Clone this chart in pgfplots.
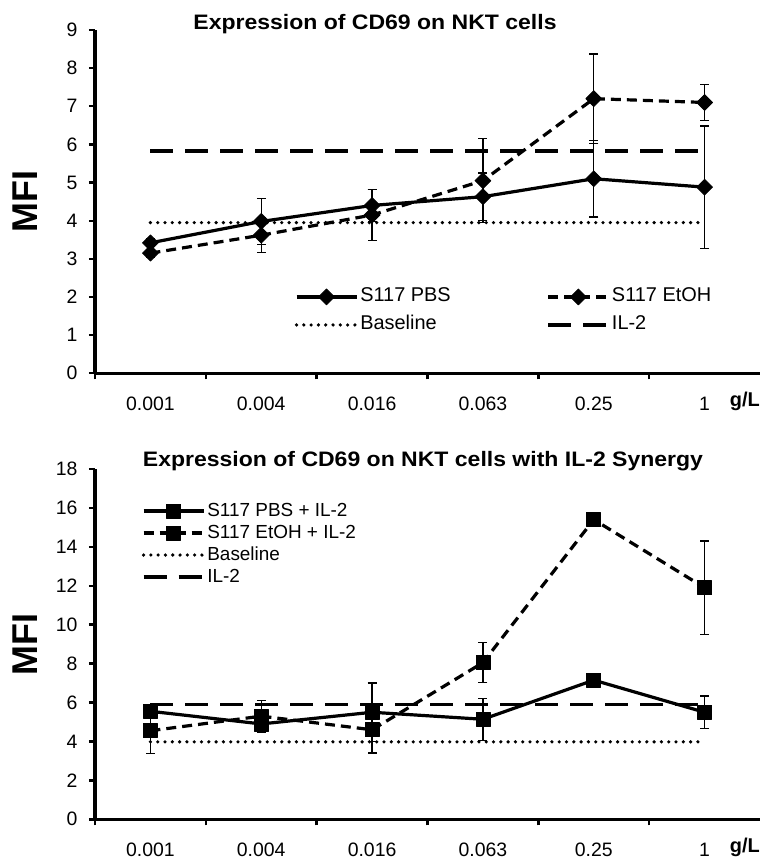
\documentclass[border=0pt]{standalone}
\usepackage{pgfplots}
\usepackage{pgfplotstable}
\pgfplotsset{compat=1.18}
\usepackage{fontspec}
\setmainfont{Liberation Sans}

\pgfplotstableread{
x y e
0 3.42 0.10
1 3.98 0.60
2 4.40 0.42
3 4.63 0.62
4 5.10 1.00
5 4.88 1.60
}\topPBS
\pgfplotstableread{
x y e
0 3.15 0.10
1 3.62 0.45
2 4.15 0.66
3 5.05 1.10
4 7.20 1.17
5 7.10 0.47
}\topEtOH
\pgfplotstableread{
x y e
0 5.55 0.20
1 4.90 0.45
2 5.50 1.50
3 5.14 1.08
4 7.15 0.35
5 5.50 0.83
}\botPBS
\pgfplotstableread{
x y e
0 4.55 1.16
1 5.30 0.80
2 4.60 1.20
3 8.05 1.03
4 15.40 0.20
5 11.90 2.40
}\botEtOH

\pgfplotsset{
  base/.style={
    scale only axis, width=665bp,
    xmin=-0.5, xmax=5.5,
    axis x line*=bottom, axis y line*=left,
    axis line style={line width=3bp, black},
    xtick={-0.5,0.5,1.5,2.5,3.5,4.5}, xticklabels={},
    extra x ticks={0,1,2,3,4,5},
    extra x tick labels={0.001,0.004,0.016,0.063,0.25,1},
    extra x tick style={major tick length=0pt},
    tick align=outside, major tick length=6bp,
    tick style={line width=2.4bp, black},
    tick label style={font=\fontsize{19.5}{19.5}\selectfont},
    /pgf/number format/assume math mode=true,
    xticklabel style={anchor=center, yshift=-31bp},
    yticklabel style={anchor=east, xshift=-8bp},
    ylabel={MFI},
    ylabel style={at={(axis description cs:-0.105,0.5)}, anchor=center, font=\bfseries\fontsize{36}{36}\selectfont},
    xlabel={g/L},
    xlabel style={at={(axis description cs:1,0)}, anchor=east, yshift=-28bp, inner sep=0pt, font=\bfseries\fontsize{20}{20}\selectfont},
    legend style={draw=none, fill=none, inner sep=0pt, nodes={text height=14bp, text depth=4bp, inner sep=2bp}},
    legend cell align=left,
    legend image code/.code={\draw[mark repeat=2,mark phase=2,##1] plot coordinates {(0bp,0bp) (30bp,0bp) (60bp,0bp)};},
  },
  ser/.style={black, line width=3.2bp, line join=round},
  eb/.style={error bars/.cd, y dir=both, y explicit,
    error bar style={line width=1.3bp, solid},
    error mark options={rotate=90, mark size=4.5bp, line width=1.3bp, solid}},
  dashA/.style={dash pattern=on 10bp off 6bp},
  dotB/.style={black, line width=3.6bp, line cap=round, dash pattern=on 0bp off 7.3bp},
  dashC/.style={black, line width=3.2bp, dash pattern=on 23bp off 12bp},
  dmark/.style={mark=square*, mark size=5.6bp, mark options={solid, rotate=45, line width=0.8bp}},
  smark/.style={mark=square*, mark size=7bp, mark options={solid, line width=0.8bp}},
}

\begin{document}
\begin{tikzpicture}
\useasboundingbox (0,0) rectangle (761bp,863bp);
% top
\begin{axis}[base, at={(95bp,489.7bp)}, anchor=south west, height=343.3bp,
  ymin=0, ymax=9, ytick={0,1,...,9},
  legend columns=2,
  legend style={at={(axis description cs:0.300,0.255)}, anchor=north west,
    font=\fontsize{20}{20}\selectfont, row sep=6bp,
    /tikz/every even column/.append style={column sep=94bp}},
]
\addplot[ser, dmark, eb] table[x=x,y=y,y error=e] {\topPBS};
\addlegendentry{S117 PBS}
\addplot[ser, dashA, dmark, eb] table[x=x,y=y,y error=e] {\topEtOH};
\addlegendentry{S117 EtOH}
\addplot[dotB] coordinates {(0,3.95) (5,3.95)};
\addlegendentry{Baseline}
\addplot[dashC] coordinates {(0,5.83) (5,5.83)};
\addlegendentry{IL-2}
\end{axis}
% bottom
\begin{axis}[base, at={(95bp,43.7bp)}, anchor=south west, height=350.3bp,
  ymin=0, ymax=18, ytick={0,2,...,18},
  legend style={at={(axis description cs:0.070,0.912)}, anchor=north west,
    font=\fontsize{19}{19}\selectfont, row sep=0bp},
]
\addplot[ser, smark, eb] table[x=x,y=y,y error=e] {\botPBS};
\addlegendentry{S117 PBS + IL-2}
\addplot[ser, dashA, smark, eb] table[x=x,y=y,y error=e] {\botEtOH};
\addlegendentry{S117 EtOH + IL-2}
\addplot[dotB] coordinates {(0,3.98) (5,3.98)};
\addlegendentry{Baseline}
\addplot[dashC] coordinates {(0,5.88) (5,5.88)};
\addlegendentry{IL-2}
\end{axis}
\node[anchor=base, inner sep=0pt, font=\bfseries\fontsize{21}{21}\selectfont] at (375bp,833.7bp) {\scalebox{1.1}[1]{Expression of CD69 on NKT cells}};
\node[anchor=base, inner sep=0pt, font=\bfseries\fontsize{21}{21}\selectfont] at (423bp,396.3bp) {\scalebox{1.1}[1]{Expression of CD69 on NKT cells with IL-2 Synergy}};
\end{tikzpicture}
\end{document}
